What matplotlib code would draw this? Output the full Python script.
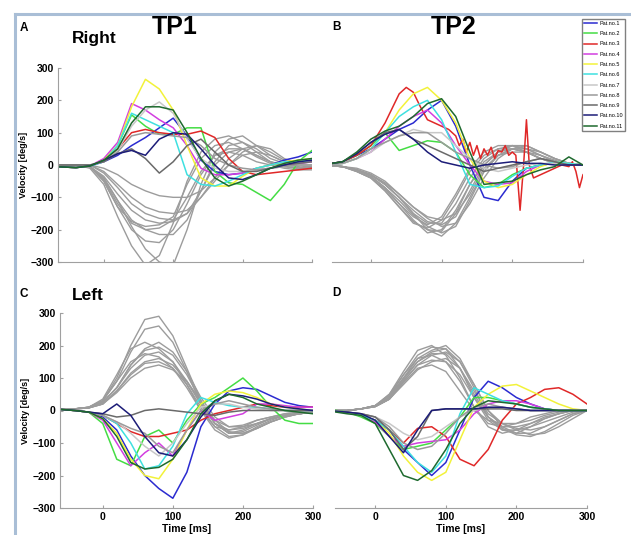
import matplotlib.pyplot as plt
from matplotlib.lines import Line2D

# time grid (ms) the curve values below were read at
time_ms = [-70, -40, -20, 0, 20, 40, 60, 80, 100, 120, 140, 160, 180, 200, 220, 240, 260, 280, 300]

pat_labels = ['Pat.no.1', 'Pat.no.2', 'Pat.no.3', 'Pat.no.4', 'Pat.no.5', 'Pat.no.6',
              'Pat.no.7', 'Pat.no.8', 'Pat.no.9', 'Pat.no.10', 'Pat.no.11']
pat_colors = ['#2b2bd0', '#44dd44', '#e02828', '#d23ee0', '#f2f23a', '#3ee0e0',
              '#c8c8c8', '#9a9a9a', '#6a6a6a', '#1c1c78', '#1e6a2e']
ctrl_color = '#9c9c9c'

# A: right, TP1
a_patients = [
    [-5, -8, -3, 10, 30, 60, 85, 115, 145, 90, 15, -20, -30, -25, -10, 0, 15, 25, 40],
    [-5, -8, -3, 15, 60, 155, 120, 95, 95, 115, 115, -20, -55, -60, -85, -110, -60, 10, 45],
    [-5, -8, -3, 15, 50, 100, 110, 100, 95, 95, 105, 85, 20, -20, -30, -25, -20, -15, -10],
    [-5, -8, -3, 20, 70, 190, 170, 140, 115, 60, -10, -30, -30, -25, -15, -10, 0, 5, 10],
    [-5, -8, -3, 15, 60, 180, 265, 235, 170, 60, -40, -65, -65, -35, -10, 0, 10, 15, 20],
    [-5, -8, -3, 10, 60, 160, 140, 120, 100, -30, -60, -65, -50, -30, -10, 0, 10, 10, 15],
    [0, 0, 0, 10, 45, 120, 170, 195, 160, 80, 20, -10, -20, -20, -15, -10, -5, 0, 0],
    [0, 0, 0, 10, 40, 90, 100, 95, 90, 85, 60, 20, 0, -10, -15, -10, -5, 0, 0],
    [0, 0, 0, 10, 35, 50, 20, -25, 10, 60, 80, 40, 0, -20, -20, -10, 0, 5, 10],
    [-5, -8, -3, 15, 35, 45, 30, 80, 100, 95, 50, 0, -40, -45, -30, -10, 0, 10, 15],
    [-5, -8, -3, 15, 50, 130, 180, 180, 170, 100, 20, -40, -65, -50, -30, -10, 5, 15, 20],
]
a_controls = [
    [0, 0, -10, -60, -160, -250, -310, -280, -180, -50, 40, 80, 90, 70, 40, 10, -5, -10, -10],
    [0, 0, -5, -40, -110, -190, -260, -300, -310, -200, -60, 40, 80, 90, 60, 30, 10, 0, -10],
    [0, 0, -5, -50, -130, -200, -235, -240, -200, -120, -30, 30, 50, 50, 30, 10, 0, -10, -10],
    [0, 0, -5, -45, -120, -180, -200, -195, -170, -100, -20, 30, 40, 30, 10, 0, -10, -15, -15],
    [0, 0, -5, -35, -90, -140, -170, -180, -175, -150, -80, 0, 40, 50, 30, 10, 0, -10, -10],
    [0, 0, 0, -25, -70, -120, -150, -165, -170, -150, -100, -40, 20, 50, 60, 40, 15, 0, -5],
    [0, 0, 0, -20, -60, -100, -130, -145, -150, -140, -100, -50, 0, 40, 60, 50, 20, 5, 0],
    [0, 0, -5, -40, -110, -170, -200, -215, -215, -170, -80, 10, 60, 70, 50, 20, 5, -5, -10],
    [0, 0, 0, -10, -30, -60, -80, -95, -100, -100, -80, -40, 0, 30, 40, 30, 10, 0, -5],
    [0, 0, -5, -50, -130, -175, -190, -185, -160, -60, 20, 60, 70, 50, 25, 5, -5, -10, -10],
]

# B: right, TP2
b_patients = [
    [0, 10, 30, 50, 80, 110, 130, 170, 200, 120, 0, -100, -110, -50, -10, 0, 5, 5, 0],
    [0, 10, 30, 60, 100, 45, 60, 75, 70, 40, -30, -70, -60, -30, -10, 0, 5, 0, 0],
    None,
    [0, 5, 20, 40, 80, 120, 150, 170, 130, 60, 0, -50, -60, -55, -20, 0, 5, 5, 0],
    [0, 5, 20, 50, 100, 170, 220, 240, 200, 130, 20, -50, -70, -60, -30, -5, 10, 5, 0],
    [0, 5, 20, 50, 100, 150, 180, 200, 140, 40, -60, -70, -65, -35, -10, 0, 10, 5, 0],
    [0, 5, 20, 40, 70, 90, 110, 100, 100, 60, 20, -10, -20, -10, 0, 5, 5, 0, 0],
    [0, 5, 20, 50, 70, 90, 100, 100, 70, 40, 20, 0, -10, -5, 10, 20, 10, 0, 0],
    [0, 10, 35, 70, 100, 110, 80, 60, 40, 20, 0, -20, -10, 0, 10, 20, 10, 0, 0],
    [0, 10, 35, 70, 95, 110, 80, 40, 10, 0, -10, 0, 5, 10, 5, 5, 0, 0, 0],
    [0, 10, 40, 80, 105, 120, 150, 190, 205, 150, 40, -60, -55, -50, -30, -15, -5, 25, 0],
]
# Pat.no.3 at TP2 oscillates, read at a finer step
b_pat3_time = [-70, -40, -20, 0, 20, 40, 50, 60, 70, 80, 90, 100, 110, 120, 125, 130, 135,
               140, 145, 150, 155, 160, 165, 170, 175, 180, 185, 190, 195, 200, 205, 211,
               216, 220, 224, 230, 240, 250, 260, 270, 280, 285, 290, 295, 300]
b_pat3_vel = [0, 10, 30, 60, 130, 220, 240, 225, 180, 140, 130, 120, 110, 90, 60, 80, 40,
              70, 30, 60, 20, 50, 30, 55, 20, 45, 40, 60, 30, 40, 30, -140,
              0, 140, 0, -40, -30, -20, -10, 0, -5, 10, -20, -70, -30]
b_controls = [
    [0, -5, -15, -30, -60, -100, -150, -200, -220, -180, -100, -20, 30, 50, 40, 20, 10, 0, 0],
    [0, -5, -15, -35, -70, -120, -170, -210, -200, -140, -60, 0, 40, 60, 50, 30, 10, 0, 0],
    [0, -5, -20, -40, -80, -130, -180, -195, -170, -100, -20, 30, 50, 50, 40, 20, 5, 0, 0],
    [0, -5, -15, -30, -60, -100, -140, -175, -185, -160, -80, 0, 40, 60, 60, 40, 20, 5, 0],
    [0, -5, -15, -30, -55, -90, -130, -165, -190, -180, -120, -40, 20, 50, 60, 40, 20, 5, 0],
    [0, -5, -20, -40, -80, -130, -175, -200, -205, -150, -60, 10, 40, 50, 40, 20, 10, 0, 0],
    [0, -5, -15, -30, -60, -100, -150, -180, -180, -120, -40, 20, 50, 60, 50, 30, 10, 0, 0],
    [0, -5, -10, -25, -50, -90, -130, -160, -170, -150, -90, -10, 30, 40, 40, 30, 15, 0, 0],
    [0, -5, -20, -40, -75, -120, -160, -185, -160, -90, -10, 40, 60, 60, 40, 20, 5, 0, 0],
    [0, -5, -15, -35, -70, -110, -155, -190, -210, -190, -110, -20, 30, 50, 50, 40, 20, 5, 0],
]

# C: left, TP1
c_patients = [
    [5, 0, -5, -20, -60, -140, -200, -240, -270, -190, -50, 20, 60, 70, 65, 45, 25, 15, 10],
    [5, 0, -5, -40, -150, -170, -80, -60, -100, -30, 20, 40, 70, 100, 60, 10, -30, -40, -40],
    [5, 0, -5, -15, -40, -65, -80, -80, -70, -60, -30, -10, 0, 10, 20, 15, 10, 10, 10],
    [5, 0, -5, -30, -100, -170, -130, -100, -140, -60, 0, -30, -20, -10, 20, 20, 15, 10, 10],
    [5, 0, -5, -25, -70, -150, -200, -210, -150, -60, 20, 50, 60, 55, 40, 20, 10, 5, 0],
    [5, 0, -5, -15, -40, -100, -180, -170, -110, -10, 40, 25, 15, 10, 10, 5, 0, 0, 0],
    [5, 0, -5, -15, -35, -70, -110, -140, -100, -40, 10, 20, 20, 10, 5, 0, 0, 0, 0],
    [5, 0, -5, -15, -35, -55, -70, -110, -130, -60, 0, 20, 30, 20, 10, 5, 0, 0, 0],
    [5, 0, -5, -10, -20, -15, 0, 5, 0, -5, -10, -15, -5, 0, 0, 0, 0, 0, 0],
    [5, 0, -5, -10, 20, -15, -80, -130, -140, -90, -20, 30, 50, 45, 35, 20, 10, 5, 0],
    [5, 0, -5, -25, -80, -160, -180, -175, -150, -90, -10, 30, 50, 40, 20, 10, 0, -5, -10],
]
c_controls = [
    [5, 5, 10, 30, 100, 200, 280, 290, 230, 130, 30, -40, -70, -60, -40, -25, -15, -10, -5],
    [5, 5, 10, 30, 90, 180, 250, 260, 210, 120, 20, -40, -70, -65, -45, -25, -15, -10, -5],
    [5, 5, 10, 35, 110, 190, 210, 190, 150, 80, 0, -50, -60, -50, -30, -20, -10, -5, 0],
    [5, 5, 10, 25, 70, 140, 190, 210, 180, 120, 40, -20, -50, -50, -40, -25, -15, -10, -5],
    [5, 5, 8, 25, 70, 140, 185, 195, 170, 110, 30, -40, -60, -55, -40, -25, -15, -10, -5],
    [5, 5, 8, 25, 70, 130, 170, 180, 150, 90, 20, -30, -50, -45, -30, -20, -10, -5, 0],
    [5, 5, 8, 20, 60, 115, 150, 160, 140, 90, 20, -40, -70, -70, -55, -35, -20, -10, -5],
    [5, 5, 8, 20, 60, 110, 145, 150, 130, 80, 10, -50, -80, -75, -55, -35, -20, -10, -5],
    [5, 5, 8, 20, 55, 100, 130, 140, 125, 90, 30, -30, -65, -70, -55, -35, -20, -10, -5],
    [5, 5, 10, 30, 90, 150, 175, 165, 130, 70, 0, -60, -85, -75, -50, -30, -15, -10, -5],
]

# D: left, TP2
d_patients = [
    [0, -5, -15, -30, -60, -120, -160, -200, -160, -60, 40, 90, 70, 40, 20, 5, 0, 0, 0],
    [5, -5, -20, -40, -80, -120, -110, -100, -60, -20, 40, 40, 30, 20, 10, 5, 0, 0, 0],
    [0, -5, -15, -30, -60, -100, -55, -50, -80, -150, -170, -120, -30, 20, 40, 65, 70, 50, 20],
    [0, -5, -15, -35, -80, -110, -100, -95, -90, -60, -10, 20, 30, 30, 20, 5, 0, 0, 0],
    [0, -5, -15, -30, -70, -140, -190, -215, -190, -90, 10, 50, 75, 80, 60, 40, 20, 5, 0],
    [0, -5, -15, -30, -60, -110, -160, -190, -140, -10, 70, 50, 30, 20, 10, 5, 0, 0, 0],
    [0, -5, -10, -20, -40, -70, -90, -80, -50, -20, 0, 10, 10, 5, 0, 0, 0, 0, 0],
    [0, -5, -10, -20, -50, -100, -120, -110, -70, -20, 10, 20, 10, 5, 0, 0, 0, 0, 0],
    [0, -5, -10, -20, -60, -120, -80, 0, 5, 5, 5, 5, 5, 0, 0, 0, 0, 0, 0],
    [0, -5, -10, -30, -80, -130, -60, 0, 5, 5, 5, 10, 10, 5, 0, 0, 0, 0, 0],
    [0, -10, -15, -40, -120, -200, -215, -185, -120, -40, 10, 30, 25, 20, 10, 5, 0, 0, 0],
]
d_controls = [
    [0, 0, 5, 15, 50, 120, 185, 200, 170, 100, 10, -40, -50, -40, -20, -10, 0, 0, 0],
    [0, 0, 5, 15, 45, 110, 170, 195, 190, 130, 40, -20, -60, -70, -50, -25, -10, 0, 0],
    [0, 0, 5, 15, 40, 100, 160, 185, 200, 160, 80, 0, -50, -70, -70, -50, -30, -10, 0],
    [0, 0, 5, 12, 35, 90, 140, 170, 180, 150, 80, 0, -40, -60, -75, -70, -50, -25, 0],
    [0, 0, 5, 12, 35, 90, 140, 155, 150, 110, 40, -30, -60, -60, -50, -35, -20, -5, 0],
    [0, 0, 5, 15, 50, 110, 160, 170, 150, 90, 10, -50, -70, -60, -40, -20, -10, 0, 0],
    [0, 0, 5, 12, 35, 80, 125, 150, 160, 130, 60, -10, -40, -55, -60, -50, -30, -10, 0],
    [0, 0, 5, 15, 45, 100, 150, 175, 175, 130, 50, -20, -55, -75, -80, -65, -40, -15, 0],
    [0, 0, 5, 15, 40, 95, 150, 180, 190, 150, 70, -20, -50, -50, -40, -25, -10, 0, 0],
    [0, 0, 5, 12, 35, 85, 130, 140, 120, 60, 0, -30, -40, -40, -30, -15, -5, 0, 0],
]

x_ticks = [0, 100, 200, 300]
y_ticks = [-300, -200, -100, 0, 100, 200, 300]

plt.rcParams['font.family'] = ['Liberation Sans', 'DejaVu Sans']
fig = plt.figure(figsize=(6.31, 5.35), dpi=100)
W, H = 631, 535


def make_panel(left, top, right, bottom, xlim, patients, controls, show_y, show_x, extra=None):
    ax = fig.add_axes([left / W, 1 - bottom / H, (right - left) / W, (bottom - top) / H])
    for c in controls:
        ax.plot(time_ms, c, color=ctrl_color, lw=1.0)
    handles = []
    for i, p in enumerate(patients):
        if p is None:
            t, v = extra
        else:
            t, v = time_ms, p
        ln, = ax.plot(t, v, color=pat_colors[i], lw=1.1, label=pat_labels[i])
        handles.append(ln)
    ax.set_xlim(xlim)
    ax.set_ylim(-300, 300)
    for s in ['top', 'right']:
        ax.spines[s].set_visible(False)
    ax.spines['bottom'].set_color('#a0a0a0')
    ax.spines['left'].set_color('#a0a0a0')
    ax.set_xticks(x_ticks)
    ax.tick_params(direction='in', length=2.5, color='#a0a0a0', labelsize=7.5, pad=3)
    if show_y:
        ax.set_yticks(y_ticks)
        ax.set_ylabel('Velocity [deg/s]', fontsize=6.5, fontweight='bold', labelpad=2)
        for lb in ax.get_yticklabels():
            lb.set_fontweight('bold')
    else:
        ax.spines['left'].set_visible(False)
        ax.set_yticks([])
    if show_x:
        ax.set_xlabel('Time [ms]', fontsize=7.5, fontweight='bold', labelpad=1)
        for lb in ax.get_xticklabels():
            lb.set_fontweight('bold')
    else:
        ax.set_xticklabels([])
    return handles


make_panel(58, 68, 312, 262, (-66, 300), a_patients, a_controls, True, False)
hb = make_panel(332, 68, 583, 262, (-55, 300), b_patients, b_controls, False, False,
                extra=(b_pat3_time, b_pat3_vel))
make_panel(60, 313, 313, 508, (-61, 300), c_patients, c_controls, True, True)
make_panel(335, 313, 587, 508, (-57, 300), d_patients, d_controls, False, True)

# panel letters and titles
def ftext(x, y, s, size, **kw):
    fig.text(x / W, 1 - y / H, s, fontsize=size, fontweight='bold', va='center', **kw)

ftext(20, 28, 'A', 8.5)
ftext(72, 38, 'Right', 12.5)
ftext(152, 27, 'TP1', 18)
ftext(332, 27, 'B', 8.5)
ftext(431, 27, 'TP2', 18)
ftext(20, 294, 'C', 8.5)
ftext(72, 295, 'Left', 12.5)
ftext(332, 293, 'D', 8.5)

# frame lines
frame_col = '#a9bed6'
fig.add_artist(Line2D([15 / W, 1], [1 - 14 / H, 1 - 14 / H], color=frame_col, lw=2.2))
fig.add_artist(Line2D([15 / W, 15 / W], [0, 1 - 14 / H], color=frame_col, lw=2.2))

fig.legend(handles=hb, loc='upper left', bbox_to_anchor=(582 / W, 1 - 19 / H),
           fontsize=4.0, labelspacing=0.95, handlelength=2.4, handletextpad=0.4,
           borderpad=0.35, borderaxespad=0, fancybox=False, edgecolor='#808080',
           framealpha=1)

fig.savefig('out.png', dpi=100)
